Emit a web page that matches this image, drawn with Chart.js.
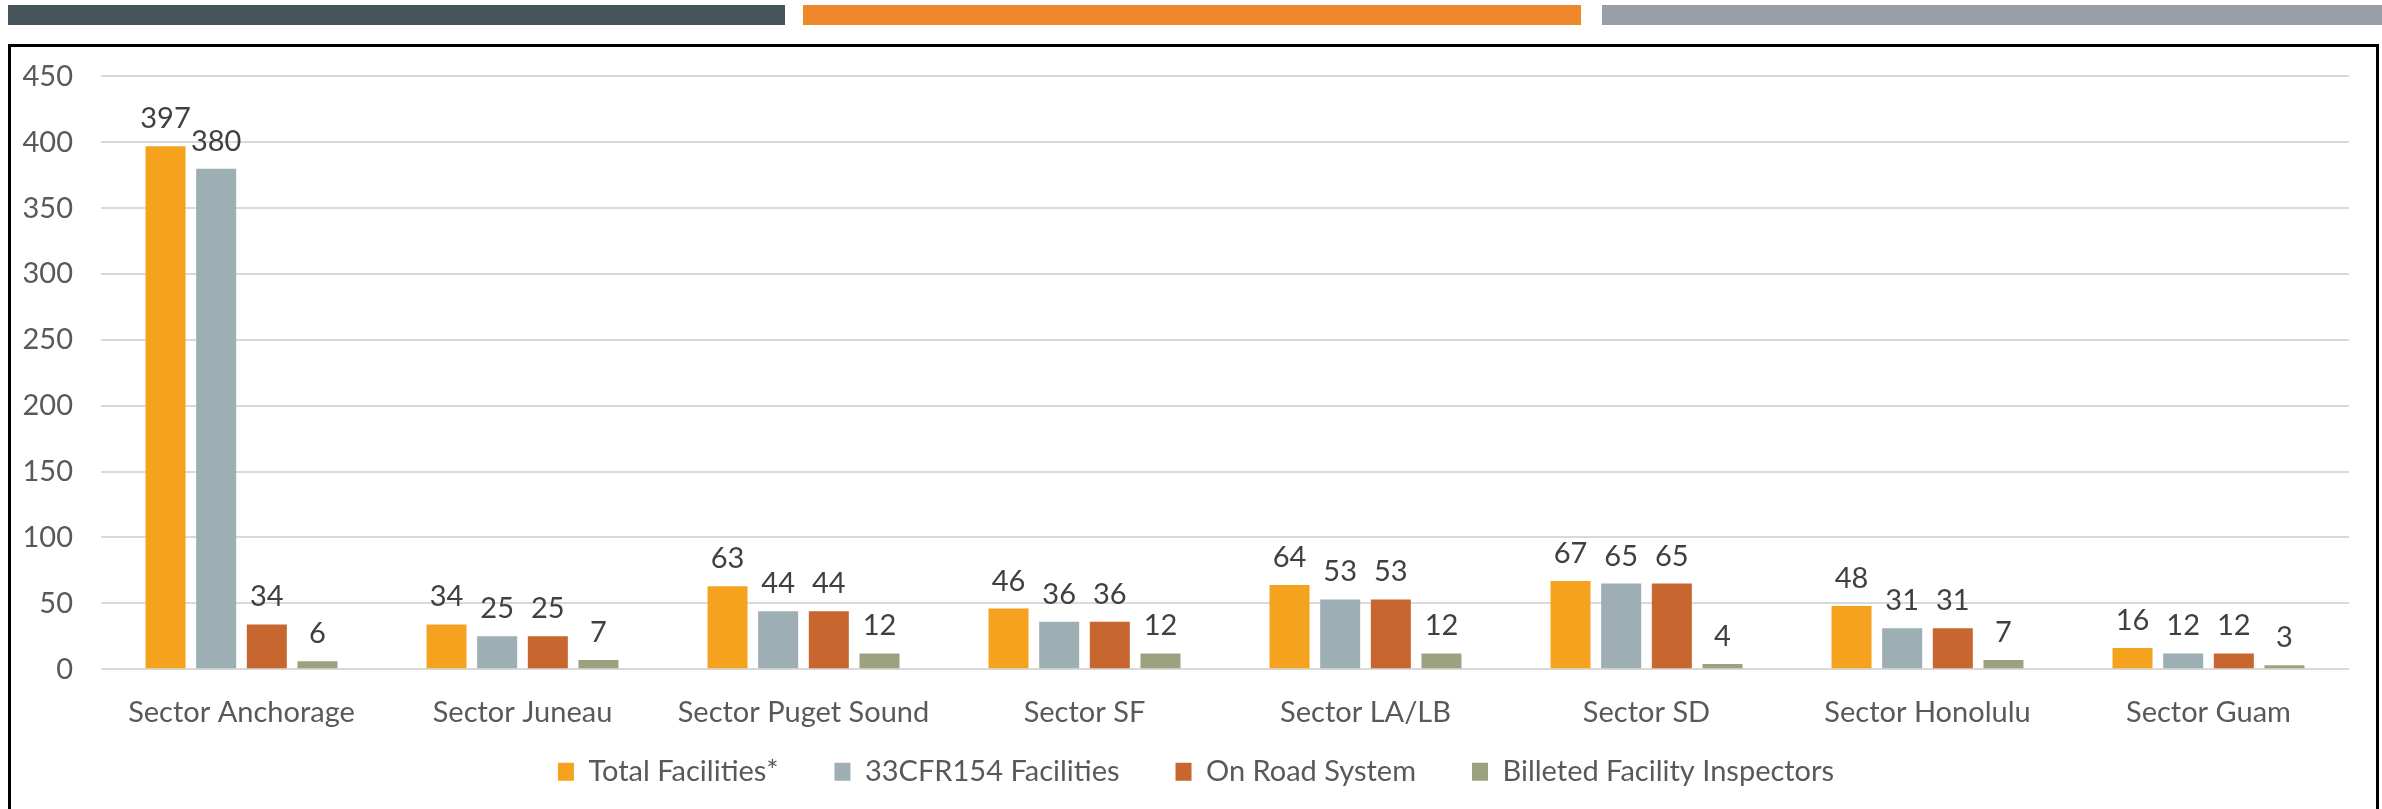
<!DOCTYPE html>
<html>
<head>
<meta charset="utf-8">
<script src="https://cdn.jsdelivr.net/npm/chart.js@4/dist/chart.umd.min.js"></script>
<style>
  body { margin: 0; background: #fff; width: 2382px; height: 809px; overflow: hidden; position: relative; }
  .strip { position: absolute; top: 5px; height: 20px; }
  #box { position: absolute; left: 8px; top: 44px; width: 2365px; height: 765px;
         border: 3px solid #000; border-bottom: none; }
  #wrap { position: relative; width: 2365px; height: 762px; }
</style>
</head>
<body>
<div class="strip" style="left:8px;width:777px;background:#47555b"></div>
<div class="strip" style="left:803px;width:778px;background:#ef882b"></div>
<div class="strip" style="left:1602px;width:780px;background:#979ea8"></div>
<div id="box"><div id="wrap"><canvas id="chart"></canvas></div></div>
<script>
// --- datos ---
const sectores = ['Sector Anchorage', 'Sector Juneau', 'Sector Puget Sound', 'Sector SF',
                  'Sector LA/LB', 'Sector SD', 'Sector Honolulu', 'Sector Guam'];
const totalFacilities = [397, 34, 63, 46, 64, 67, 48, 16];
const cfr154Facilities = [380, 25, 44, 36, 53, 65, 31, 12];
const onRoadSystem = [34, 25, 44, 36, 53, 65, 31, 12];
const billetedInspectors = [6, 7, 12, 12, 12, 4, 7, 3];
const yTicks = [0, 50, 100, 150, 200, 250, 300, 350, 400, 450];

const fuente = 'Lato';
Chart.defaults.font.family = fuente;
Chart.defaults.font.size = 29;
Chart.defaults.color = '#595959';

// etiquetas de valor encima de cada barra
const etiquetasBarras = {
    id: 'etiquetasBarras',
    afterDatasetsDraw(chart) {
        const ctx = chart.ctx;
        ctx.save();
        ctx.font = '29px ' + fuente;
        ctx.fillStyle = '#404040';
        ctx.textAlign = 'center';
        ctx.textBaseline = 'alphabetic';
        chart.data.datasets.forEach((ds, i) => {
            chart.getDatasetMeta(i).data.forEach((bar, j) => {
                ctx.fillText(ds.data[j], bar.x, bar.y - 18);
            });
        });
        ctx.restore();
    }
};

// la leyenda queda mas pegada a las etiquetas del eje que lo que permite el layout
const subirLeyenda = {
    id: 'subirLeyenda',
    afterLayout(chart) {
        const lg = chart.legend;
        if (!lg) return;
        const h = lg.bottom - lg.top;
        lg.top = chart.chartArea.bottom + 32;
        lg.bottom = lg.top + h;
        lg.left += 16;
        lg.right += 16;
    }
};

new Chart(document.getElementById('chart'), {
    type: 'bar',
    data: {
        labels: sectores,
        datasets: [
            { label: 'Total Facilities*', data: totalFacilities, backgroundColor: '#f5a31e' },
            { label: '33CFR154 Facilities', data: cfr154Facilities, backgroundColor: '#9daeb4' },
            { label: 'On Road System', data: onRoadSystem, backgroundColor: '#c8662f' },
            { label: 'Billeted Facility Inspectors', data: billetedInspectors, backgroundColor: '#9ca27f' }
        ]
    },
    options: {
        responsive: true,
        maintainAspectRatio: false,
        animation: false,
        datasets: { bar: { categoryPercentage: 0.721, barPercentage: 0.79 } },
        layout: { padding: { top: 29, right: 27, bottom: -42, left: 0 } },
        scales: {
            x: {
                grid: { display: false, drawTicks: false },
                border: { display: false },
                ticks: { padding: 26, color: '#595959', maxRotation: 0, autoSkip: false }
            },
            y: {
                min: 0, max: 450,
                afterBuildTicks: s => { s.ticks = yTicks.map(v => ({ value: v })); },
                grid: { color: '#d9d9d9', lineWidth: 2, drawTicks: false },
                border: { display: false },
                ticks: { padding: 28, color: '#595959', font: { size: 29, lineHeight: 0.1 } },
                afterFit: s => { s.width = 90; }
            }
        },
        plugins: {
            legend: {
                position: 'bottom',
                labels: { boxWidth: 16, boxHeight: 18, padding: 56, color: '#595959' }
            },
            tooltip: { enabled: false }
        }
    },
    plugins: [etiquetasBarras, subirLeyenda]
});
</script>
</body>
</html>
